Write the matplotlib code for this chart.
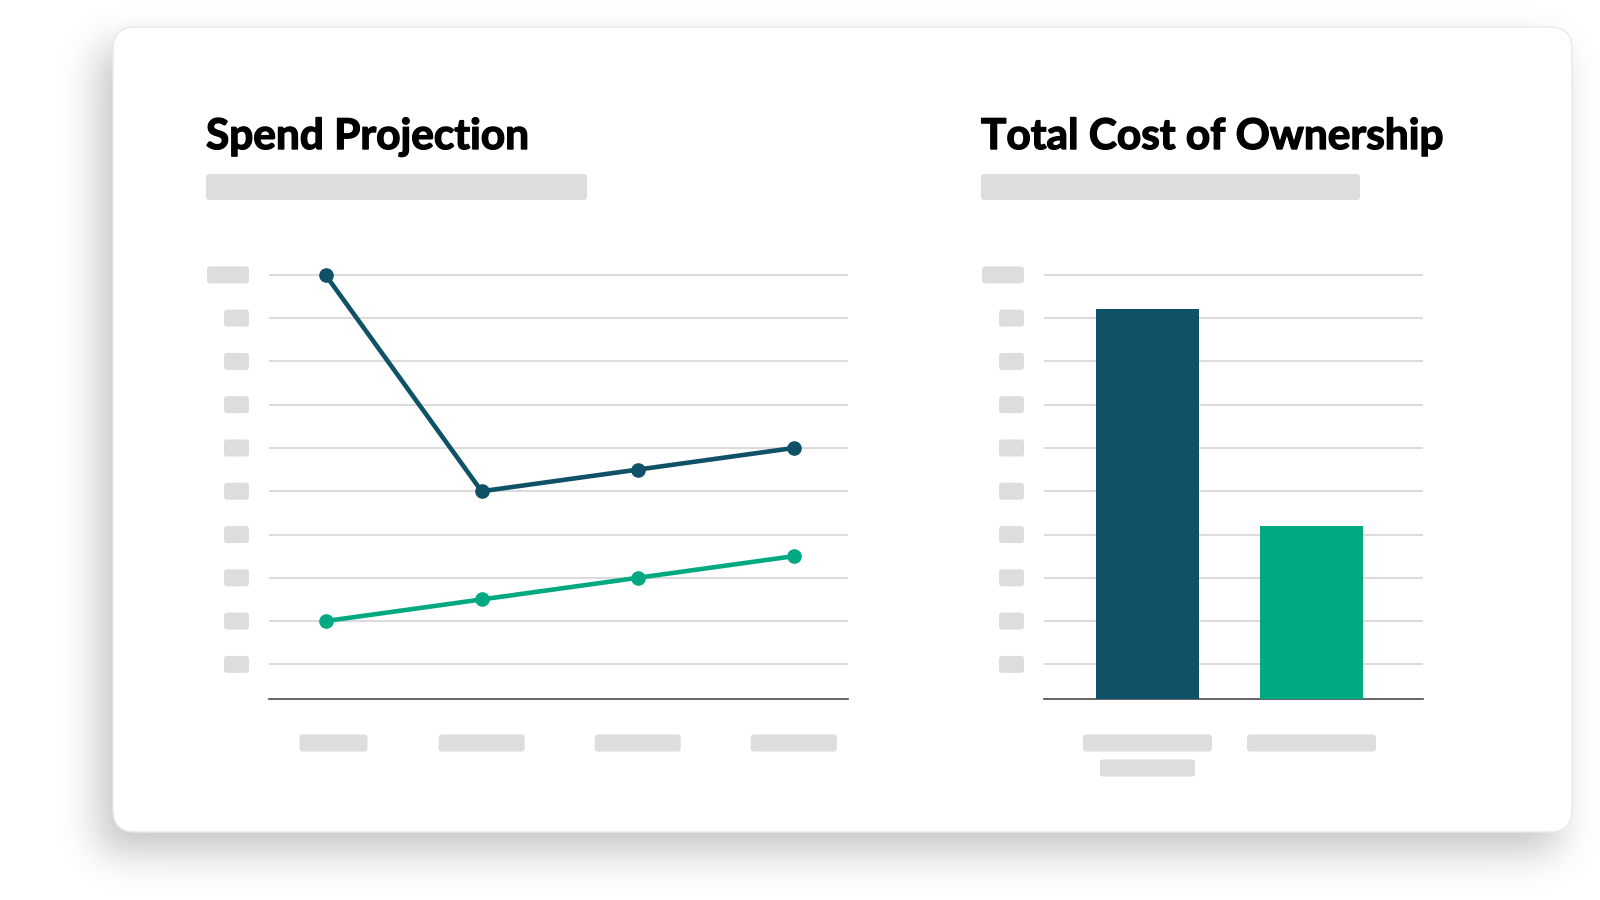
import math
import numpy as np
import matplotlib
matplotlib.use("Agg")
import matplotlib.pyplot as plt
import matplotlib.patheffects as pe
from matplotlib.patches import FancyBboxPatch

# chart values (unit = one gridline step, 0 = axis baseline)
periods = [0, 1, 2, 3]
current_spend = [9.8, 4.8, 5.3, 5.8]
projected_spend = [1.8, 2.3, 2.8, 3.3]
tco_options = [0, 1]
tco_values = [9.0, 4.0]
grid_levels = [0.8, 1.8, 2.8, 3.8, 4.8, 5.8, 6.8, 7.8, 8.8, 9.8]

titles = ["Spend Projection", "Total Cost of Ownership"]

dark = "#0f5167"
green = "#01a982"
grid_col = "#d4d4d4"
ph_col = "#dddddd"

W, H = 1600, 900
fig = plt.figure(figsize=(W / 100, H / 100), dpi=100, facecolor="white")

# background layer in pixel coords (y down)
bg = fig.add_axes([0, 0, 1, 1])
bg.set_xlim(0, W)
bg.set_ylim(H, 0)
bg.axis("off")

# card + soft shadow
card = (113, 27, 1572, 832)
sx, sy, sig = -14, 20, 20
xs = np.arange(W) + 0.5
ys = np.arange(H) + 0.5
erf = np.vectorize(math.erf)
fx = 0.5 * (erf((xs - card[0] - sx) / (sig * 1.414)) - erf((xs - card[2] - sx) / (sig * 1.414)))
fy = 0.5 * (erf((ys - card[1] - sy) / (sig * 1.414)) - erf((ys - card[3] - sy) / (sig * 1.414)))
shadow = np.zeros((H, W, 4))
shadow[..., 3] = 0.23 * np.outer(fy, fx)
bg.imshow(shadow, extent=(0, W, H, 0), zorder=0, interpolation="bilinear")
bg.add_patch(FancyBboxPatch((card[0], card[1]), card[2] - card[0], card[3] - card[1],
                            boxstyle="round,pad=0,rounding_size=22",
                            fc="white", ec="#e9e9e9", lw=1, zorder=1))


def placeholder(cx, cy, w, h=17):
    bg.add_patch(FancyBboxPatch((cx - w / 2, cy - h / 2), w, h,
                                boxstyle="round,pad=0,rounding_size=3",
                                fc=ph_col, ec="none", zorder=2))


def to_px(ax, x, y):
    dx, dy = ax.transData.transform((x, y))
    return dx, H - dy


def style_axes(ax):
    for s in ["top", "left", "right"]:
        ax.spines[s].set_visible(False)
    ax.spines["bottom"].set_color("#4a4a4a")
    ax.spines["bottom"].set_linewidth(1.2)
    ax.set_facecolor("none")
    ax.set_yticks(grid_levels)
    ax.set_xticks([])
    ax.tick_params(axis="y", length=0, labelleft=False)
    ax.grid(axis="y", color=grid_col, lw=1.2)
    ax.set_axisbelow(True)
    ax.set_ylim(0, 10.3)


def add_axes_px(x0, x1, ytop, ybot):
    return fig.add_axes([x0 / W, 1 - ybot / H, (x1 - x0) / W, (ybot - ytop) / H])


base_y = 699
top_y = base_y - 10.3 * 43.28

# ---- Spend Projection (line chart)
ax1 = add_axes_px(269, 848, top_y, base_y)
style_axes(ax1)
ax1.set_xlim(-0.362, 3.347)
ax1.plot(periods, current_spend, "-o", color=dark, lw=3.3, ms=9.5, clip_on=False, zorder=3)
ax1.plot(periods, projected_spend, "-o", color=green, lw=3.3, ms=9.5, clip_on=False, zorder=3)

# ---- Total Cost of Ownership (bar chart)
ax2 = add_axes_px(1044, 1423, top_y, base_y)
style_axes(ax2)
ax2.set_xlim(-0.631, 1.68)
ax2.bar(tco_options, tco_values, width=0.628, color=[dark, green], zorder=3)

# titles and subtitle placeholders
heavy = [pe.withStroke(linewidth=1.0, foreground="black")]
for ax, title, tx, bar_w in [(ax1, titles[0], 206, 381), (ax2, titles[1], 981, 379)]:
    fig.text(tx / W, 1 - 149 / H, title, fontsize=30.5, fontweight="bold",
             family=["Lato", "DejaVu Sans"], color="black", va="baseline", ha="left",
             path_effects=heavy)
    placeholder(tx + bar_w / 2, 187, bar_w, 26)
    # y tick label placeholders
    left_px = ax.transAxes.transform((0, 0))[0]
    for v in grid_levels:
        _, py = to_px(ax, 0, v)
        w = 42 if v == grid_levels[-1] else 25
        placeholder(left_px - 20 - w / 2, py, w)

# x tick label placeholders
for i, x in enumerate(periods):
    px, _ = to_px(ax1, x, 0)
    if i == 0:
        placeholder(px + 8, 743, 68)
    else:
        placeholder(px, 743, 86)
for i, x in enumerate(tco_options):
    px, _ = to_px(ax2, x, 0)
    placeholder(px, 743, 129)
    if i == 0:
        placeholder(px, 768, 95)

fig.savefig("out.png", dpi=100, facecolor="white")
